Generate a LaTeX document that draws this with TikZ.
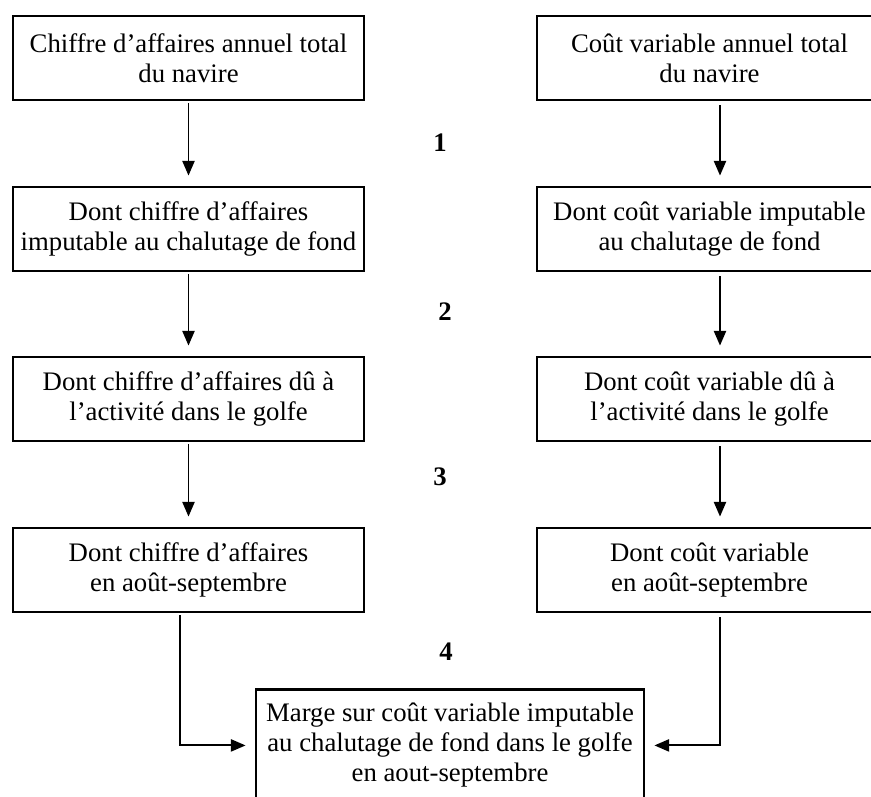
\documentclass[tikz,border=0pt]{standalone}
\usepackage{fontspec}
\setmainfont{Liberation Serif}
\usetikzlibrary{arrows.meta}

\begin{document}
\begin{tikzpicture}[x=0.46pt,y=-0.46pt,
    box/.style={draw, line width=1.3pt, minimum width=351*\px, minimum height=84*\px,
      inner sep=1pt, align=center, font=\fontsize{12.3}{13.8}\selectfont},
    boxr/.style={box, minimum width=345*\px},
    fleche/.style={line width=0.9pt, -{Triangle[width=5.6pt,length=6.8pt]}},
    etape/.style={font=\fontsize{12.3}{13.8}\selectfont\bfseries}]
    \def\px{0.46pt}
    \useasboundingbox (0,0) rectangle (871,796);
    \clip (0,0) rectangle (871,796);

    % chiffre d'affaires
    \node[box] (ca1) at (188.5,58) {Chiffre d’affaires annuel total\\du navire};
    \node[box] (ca2) at (188.5,229) {Dont chiffre d’affaires\\imputable au chalutage de fond};
    \node[box] (ca3) at (188.5,399) {Dont chiffre d’affaires dû à\\l’activité dans le golfe};
    \node[box] (ca4) at (188.5,570) {Dont chiffre d’affaires\\en août-septembre};

    % cout variable
    \node[boxr] (cv1) at (709.5,58) {Coût variable annuel total\\du navire};
    \node[boxr] (cv2) at (709.5,229) {Dont coût variable imputable\\au chalutage de fond};
    \node[boxr] (cv3) at (709.5,399) {Dont coût variable dû à\\l’activité dans le golfe};
    \node[boxr] (cv4) at (709.5,570) {Dont coût variable\\en août-septembre};

    \node[box, minimum width=388*\px, minimum height=112*\px, anchor=north] (marge) at (450,688)
      {Marge sur coût variable imputable\\au chalutage de fond dans le golfe\\en aout-septembre};

    \node[etape] (n1) at (440,143) {1};
    \node[etape] (n2) at (445,312) {2};
    \node[etape] (n3) at (440,477) {3};
    \node[etape] (n4) at (446,652) {4};

    \draw[fleche] ([yshift=-2*\px]ca1.south) -- ([yshift=10*\px]ca2.north);
    \draw[fleche] ([yshift=-2*\px]ca2.south) -- ([yshift=10*\px]ca3.north);
    \draw[fleche] ([yshift=-2*\px]ca3.south) -- ([yshift=10*\px]ca4.north);
    \draw[fleche] ([xshift=10.5*\px,yshift=-4*\px]cv1.south) -- ([xshift=10.5*\px,yshift=10*\px]cv2.north);
    \draw[fleche] ([xshift=10.5*\px,yshift=-4*\px]cv2.south) -- ([xshift=10.5*\px,yshift=10*\px]cv3.north);
    \draw[fleche] ([xshift=10.5*\px,yshift=-4*\px]cv3.south) -- ([xshift=10.5*\px,yshift=10*\px]cv4.north);

    \draw[fleche] ([xshift=-8.5*\px,yshift=-2*\px]ca4.south) |- ([xshift=-9*\px]marge.west);
    \draw[fleche] ([xshift=10.5*\px,yshift=-4*\px]cv4.south) |- ([xshift=9*\px]marge.east);

\end{tikzpicture}
\end{document}
